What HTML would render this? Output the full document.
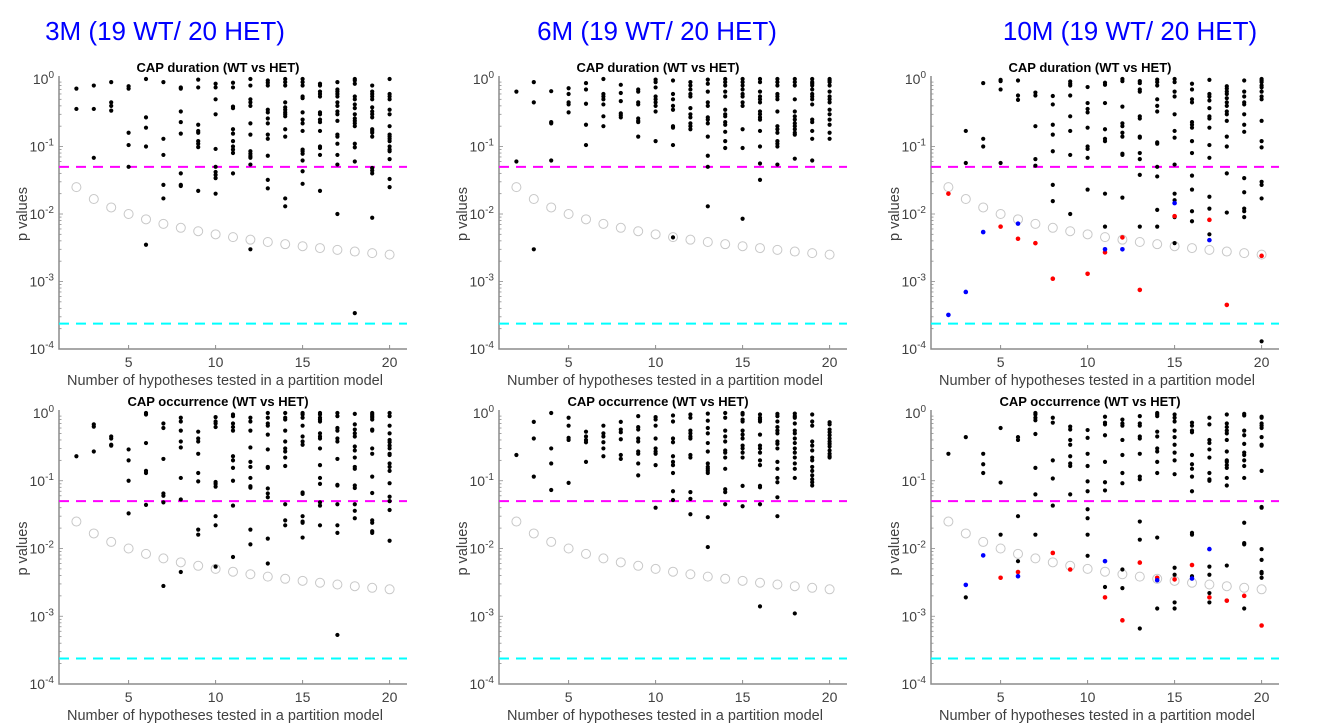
<!DOCTYPE html>
<html><head><meta charset="utf-8"><style>
body{margin:0;background:#fff;}
svg{display:block;font-family:"Liberation Sans",sans-serif;}
</style></head><body>
<svg id="fig" width="1322" height="725" viewBox="0 0 1322 725" xmlns="http://www.w3.org/2000/svg">
<text x="165" y="40" font-size="26" fill="#0000ff" text-anchor="middle">3M (19 WT/ 20 HET)</text>
<text x="657" y="40" font-size="26" fill="#0000ff" text-anchor="middle">6M (19 WT/ 20 HET)</text>
<text x="1130" y="40" font-size="26" fill="#0000ff" text-anchor="middle">10M (19 WT/ 20 HET)</text>
</svg>
<script>
const xTickVals=[5,10,15,20];
const yTickExps=[0,-1,-2,-3,-4];
const nHyp=[2,3,4,5,6,7,8,9,10,11,12,13,14,15,16,17,18,19,20];
const alpha=0.05;
const alphaStrict=0.000238;
const blackA=[[0.72,0.36],[0.8,0.36,0.068],[0.9,0.45,0.4,0.34],[0.78,0.72,0.16,0.105,0.05],[1.0,0.27,0.19,0.1,0.0035],[0.9,0.13,0.075,0.027,0.017],[0.75,0.72,0.33,0.23,0.155,0.04,0.027,0.026],[0.98,0.75,0.21,0.17,0.16,0.12,0.11,0.098,0.022],[0.85,0.75,0.5,0.3,0.092,0.05,0.042,0.038,0.034,0.02],[0.88,0.75,0.39,0.37,0.18,0.155,0.12,0.1,0.09,0.08,0.04],[1.0,0.8,0.5,0.45,0.4,0.22,0.15,0.085,0.078,0.072,0.068,0.054,0.003],[0.95,0.88,0.8,0.35,0.32,0.26,0.22,0.15,0.13,0.073,0.032,0.024],[1.0,0.9,0.8,0.45,0.38,0.35,0.32,0.3,0.28,0.18,0.14,0.017,0.013],[1.0,0.9,0.8,0.55,0.52,0.32,0.25,0.22,0.17,0.09,0.085,0.078,0.062,0.043,0.028],[0.85,0.8,0.65,0.6,0.55,0.32,0.3,0.25,0.23,0.17,0.1,0.095,0.075,0.022],[0.9,0.7,0.65,0.6,0.55,0.45,0.4,0.33,0.3,0.24,0.15,0.14,0.11,0.075,0.054,0.01],[1.0,0.95,0.85,0.55,0.5,0.42,0.37,0.3,0.26,0.24,0.22,0.2,0.11,0.097,0.06,0.00034],[0.8,0.65,0.6,0.55,0.5,0.38,0.33,0.3,0.27,0.18,0.17,0.16,0.14,0.048,0.044,0.04,0.0088],[1.0,0.6,0.55,0.5,0.35,0.3,0.2,0.15,0.14,0.13,0.12,0.1,0.09,0.085,0.065,0.033,0.025]];
const blackB=[[0.65,0.06],[0.9,0.45,0.003],[0.66,0.23,0.22,0.062],[0.73,0.6,0.45,0.42,0.32],[0.87,0.7,0.43,0.21,0.105],[1.0,0.6,0.55,0.5,0.42,0.28,0.2],[0.82,0.62,0.47,0.31,0.29,0.27],[0.7,0.65,0.45,0.42,0.26,0.24,0.23,0.14],[0.98,0.9,0.75,0.55,0.5,0.45,0.4,0.33,0.12],[0.95,0.6,0.5,0.4,0.35,0.2,0.19,0.105,0.0045],[0.9,0.8,0.7,0.6,0.55,0.37,0.3,0.27,0.22,0.2,0.18],[0.98,0.85,0.65,0.45,0.4,0.27,0.25,0.22,0.14,0.073,0.05,0.013],[1.0,0.9,0.8,0.65,0.55,0.35,0.3,0.28,0.23,0.21,0.165,0.12,0.095],[1.0,0.9,0.8,0.7,0.6,0.55,0.45,0.4,0.18,0.095,0.0085],[1.0,0.9,0.65,0.55,0.5,0.45,0.33,0.3,0.27,0.25,0.17,0.1,0.056,0.032],[1.0,0.9,0.8,0.6,0.55,0.5,0.33,0.2,0.18,0.16,0.12,0.11,0.1,0.054],[1.0,0.9,0.8,0.5,0.33,0.28,0.25,0.22,0.2,0.18,0.16,0.15,0.066],[1.0,0.9,0.85,0.8,0.7,0.6,0.55,0.5,0.42,0.25,0.23,0.17,0.13,0.062],[1.0,0.95,0.9,0.8,0.65,0.55,0.5,0.45,0.35,0.3,0.25,0.21,0.16,0.13]];
const blackC=[[],[0.17,0.057],[0.87,0.13,0.1],[0.97,0.93,0.7,0.057],[0.95,0.57,0.49],[0.63,0.57,0.2,0.065,0.052],[0.56,0.42,0.21,0.15,0.085,0.027,0.0155],[0.92,0.85,0.8,0.57,0.28,0.17,0.075,0.01],[0.76,0.44,0.36,0.32,0.19,0.1,0.092,0.068,0.023],[0.88,0.82,0.44,0.18,0.13,0.12,0.02,0.0065],[1.0,0.93,0.39,0.22,0.2,0.16,0.14,0.078,0.075,0.0175],[0.93,0.87,0.7,0.65,0.28,0.26,0.14,0.135,0.08,0.065,0.038,0.0065],[0.98,0.9,0.8,0.5,0.4,0.33,0.115,0.11,0.05,0.036,0.0115,0.0065],[1.0,0.9,0.65,0.55,0.3,0.17,0.135,0.054,0.02,0.016,0.009,0.0037],[0.85,0.7,0.5,0.45,0.23,0.21,0.19,0.12,0.08,0.037,0.023,0.011,0.0078],[0.97,0.6,0.55,0.48,0.37,0.28,0.26,0.19,0.105,0.068,0.018,0.012,0.005],[0.78,0.72,0.65,0.6,0.52,0.45,0.4,0.33,0.3,0.24,0.14,0.1,0.04,0.0105],[0.95,0.65,0.55,0.45,0.42,0.3,0.21,0.165,0.034,0.021,0.012,0.011,0.009],[1.0,0.95,0.9,0.8,0.75,0.65,0.55,0.5,0.24,0.12,0.097,0.03,0.027,0.017,0.00013]];
const redC=[[2,0.02],[5,0.0065],[6,0.0043],[7,0.0037],[8,0.0011],[10,0.0013],[11,0.0027],[12,0.0045],[13,0.00075],[15,0.0093],[17,0.0082],[18,0.00045],[20,0.0024]];
const blueC=[[2,0.00032],[3,0.0007],[4,0.0054],[6,0.0072],[11,0.003],[12,0.003],[15,0.0145],[17,0.0041]];
const blackD=[[0.23],[0.68,0.63,0.27],[0.45,0.42,0.34,0.33],[0.29,0.2,0.1,0.033],[1.0,0.95,0.36,0.14,0.13,0.044],[0.7,0.6,0.21,0.065,0.06,0.048,0.0028],[0.85,0.75,0.55,0.38,0.31,0.11,0.053,0.0045],[0.53,0.42,0.38,0.25,0.13,0.098,0.019,0.016],[0.87,0.75,0.7,0.62,0.096,0.09,0.082,0.03,0.022,0.0054],[0.95,0.9,0.7,0.62,0.55,0.23,0.2,0.155,0.1,0.043,0.0075],[0.85,0.75,0.55,0.31,0.19,0.16,0.11,0.083,0.079,0.019,0.0115],[1.0,0.85,0.7,0.65,0.48,0.29,0.16,0.155,0.077,0.065,0.057,0.014,0.006],[1.0,0.85,0.8,0.55,0.38,0.3,0.27,0.22,0.165,0.045,0.026,0.022],[1.0,0.95,0.85,0.65,0.45,0.38,0.34,0.067,0.064,0.03,0.025,0.024,0.0145],[1.0,0.95,0.85,0.8,0.75,0.5,0.45,0.42,0.3,0.17,0.11,0.09,0.048,0.043,0.022],[1.0,0.9,0.6,0.55,0.42,0.38,0.21,0.087,0.085,0.045,0.022,0.017,0.00053],[0.97,0.68,0.57,0.5,0.45,0.32,0.28,0.22,0.16,0.15,0.085,0.078,0.045,0.036,0.028],[1.0,0.95,0.9,0.85,0.8,0.57,0.55,0.3,0.25,0.115,0.066,0.026,0.024,0.018,0.017],[1.0,0.9,0.65,0.5,0.4,0.37,0.33,0.3,0.25,0.24,0.18,0.16,0.14,0.092,0.058,0.05,0.037,0.013]];
const blackE=[[0.24],[0.74,0.42,0.115],[1.0,0.3,0.18,0.073],[0.85,0.65,0.43,0.4,0.093],[0.53,0.45,0.4,0.37,0.19],[0.65,0.5,0.45,0.37,0.3,0.23],[0.74,0.57,0.52,0.41,0.24,0.21],[0.9,0.62,0.57,0.42,0.38,0.27,0.25,0.18,0.12],[0.87,0.8,0.65,0.42,0.3,0.27,0.25,0.17,0.04],[0.92,0.75,0.42,0.37,0.23,0.19,0.17,0.13,0.07,0.052],[0.95,0.85,0.55,0.5,0.45,0.42,0.24,0.22,0.068,0.054,0.032],[0.98,0.77,0.6,0.5,0.36,0.27,0.18,0.16,0.15,0.14,0.13,0.029,0.0105],[1.0,0.85,0.55,0.45,0.38,0.28,0.26,0.22,0.15,0.075,0.068,0.045],[1.0,0.95,0.8,0.75,0.55,0.48,0.42,0.33,0.3,0.26,0.22,0.084,0.042],[0.95,0.85,0.8,0.75,0.48,0.33,0.3,0.26,0.2,0.17,0.084,0.08,0.045,0.0014],[0.97,0.9,0.75,0.62,0.55,0.5,0.38,0.35,0.3,0.19,0.15,0.11,0.095,0.057,0.03],[0.98,0.9,0.85,0.7,0.55,0.5,0.42,0.36,0.3,0.26,0.22,0.18,0.15,0.11,0.0011],[0.95,0.75,0.65,0.38,0.33,0.28,0.22,0.2,0.16,0.14,0.12,0.105,0.095,0.085],[0.73,0.68,0.57,0.52,0.47,0.42,0.38,0.35,0.32,0.28,0.25,0.23,0.22]];
const blackF=[[0.25],[0.44,0.0019],[0.25,0.175,0.13],[0.6,0.094,0.016],[0.44,0.4,0.03,0.0065],[1.0,0.95,0.85,0.78,0.49,0.155,0.063,0.016],[0.85,0.72,0.2,0.108,0.043],[0.63,0.57,0.4,0.34,0.23,0.18,0.165,0.063],[0.56,0.43,0.25,0.165,0.098,0.07,0.038,0.028,0.016,0.0078],[0.88,0.72,0.68,0.47,0.19,0.095,0.072,0.0027],[0.8,0.7,0.65,0.4,0.24,0.13,0.092,0.0049,0.0026],[0.9,0.7,0.65,0.45,0.42,0.25,0.115,0.105,0.025,0.0135,0.00066],[1.0,0.95,0.9,0.53,0.45,0.3,0.27,0.19,0.13,0.0145,0.0013],[0.95,0.85,0.75,0.55,0.44,0.34,0.26,0.2,0.125,0.0052,0.0041,0.0016,0.0013],[0.72,0.65,0.55,0.52,0.24,0.175,0.15,0.115,0.07,0.017,0.016,0.0039],[0.85,0.68,0.4,0.36,0.29,0.22,0.13,0.105,0.1,0.0054,0.0041,0.0022,0.0016],[0.95,0.7,0.62,0.55,0.5,0.4,0.27,0.2,0.19,0.17,0.155,0.11,0.085,0.0056,0.0017],[0.97,0.92,0.55,0.47,0.35,0.26,0.24,0.2,0.165,0.11,0.024,0.012,0.0115,0.0013],[0.88,0.85,0.7,0.65,0.6,0.44,0.34,0.33,0.14,0.041,0.04,0.0098,0.0068,0.0045,0.0043,0.0037]];
const redF=[[5,0.0037],[6,0.0045],[8,0.0086],[9,0.0049],[11,0.0019],[12,0.00087],[13,0.0062],[14,0.0037],[15,0.0035],[16,0.0057],[17,0.0019],[18,0.0017],[19,0.002],[20,0.00073]];
const blueF=[[3,0.0029],[4,0.0079],[6,0.0039],[11,0.0065],[14,0.0034],[16,0.0036],[17,0.0098]];

const NS='http://www.w3.org/2000/svg';
const svg=document.getElementById('fig');
function mk(tag,attrs,parent){const e=document.createElementNS(NS,tag);for(const k in attrs)e.setAttribute(k,attrs[k]);(parent||svg).appendChild(e);return e;}

const panels=[
 {id:'3m-duration',left:59,y0:79,y4:349,title:'CAP duration (WT vs HET)',black:blackA,red:[],blue:[]},
 {id:'6m-duration',left:499,y0:79,y4:349,title:'CAP duration (WT vs HET)',black:blackB,red:[],blue:[]},
 {id:'10m-duration',left:931,y0:79,y4:349,title:'CAP duration (WT vs HET)',black:blackC,red:redC,blue:blueC},
 {id:'3m-occurrence',left:59,y0:413,y4:684,title:'CAP occurrence (WT vs HET)',black:blackD,red:[],blue:[]},
 {id:'6m-occurrence',left:499,y0:413,y4:684,title:'CAP occurrence (WT vs HET)',black:blackE,red:[],blue:[]},
 {id:'10m-occurrence',left:931,y0:413,y4:684,title:'CAP occurrence (WT vs HET)',black:blackF,red:redF,blue:blueF}
];
const W=348;
panels.forEach(p=>{
 const g=mk('g',{});
 
 
 const dec=(p.y4-p.y0)/4;
 const X=v=>p.left+(v-1)/20*W;
 const Y=v=>p.y0-Math.log10(v)*dec;
 const topY=p.y0-3;
 // axes
 const ax=mk('path',{d:`M${p.left},${topY}V${p.y4}H${p.left+W}`,stroke:'#8c8c8c','stroke-width':1.5,fill:'none'},g);
 
 
 // y ticks major+minor
 for(let e=0;e>-4;e--){
  for(let m=1;m<10;m++){
   const v=m*Math.pow(10,e-1);
   const yy=Y(v);
   mk('line',{x1:p.left,x2:p.left+(m===1?4:2.5),y1:yy,y2:yy,stroke:'#8c8c8c','stroke-width':0.8},g);
  }
 }
 yTickExps.forEach(e=>{
  const t=mk('text',{x:p.left-5,y:Y(Math.pow(10,e))+5,'font-size':14,fill:'#404040','text-anchor':'end'},g);
  
  
  t.appendChild(document.createTextNode('10'));
  const s=mk('tspan',{dy:-6,'font-size':10},t);s.textContent=String(e);
 });
 xTickVals.forEach(v=>{
  mk('line',{x1:X(v),x2:X(v),y1:p.y4,y2:p.y4-4,stroke:'#8c8c8c','stroke-width':1},g);
  const t=mk('text',{x:X(v),y:p.y4+18,'font-size':14,fill:'#404040','text-anchor':'middle'},g);
  
  
  t.textContent=String(v);
 });
 const xl=mk('text',{x:p.left+W/2-8,y:p.y4+36,'font-size':14.5,fill:'#404040','text-anchor':'middle'},g);
 
 
 xl.textContent='Number of hypotheses tested in a partition model';
 const yl=mk('text',{x:0,y:0,'font-size':14.5,fill:'#404040','text-anchor':'middle',transform:`translate(${p.left-32},${(p.y0+p.y4)/2}) rotate(-90)`},g);
 
 
 yl.textContent='p values';
 const tt=mk('text',{x:p.left+W/2-15,y:p.y0-7,'font-size':13,'font-weight':'bold',fill:'#000','text-anchor':'middle'},g);
 
 
 tt.textContent=p.title;
 // threshold lines
 const l1=mk('line',{x1:p.left,x2:p.left+W,y1:Y(alpha),y2:Y(alpha),stroke:'#ff00ff','stroke-width':2,'stroke-dasharray':'10,7'},g);
 
 
 const l2=mk('line',{x1:p.left,x2:p.left+W,y1:Y(alphaStrict),y2:Y(alphaStrict),stroke:'#00ffff','stroke-width':2,'stroke-dasharray':'10,7'},g);
 
 
 // bonferroni circles
 nHyp.forEach(n=>{
  const c=mk('circle',{cx:X(n),cy:Y(alpha/n),r:4.5,fill:'none',stroke:'#c8c8c8','stroke-width':1},g);
  
  
 });
 // black dots
 p.black.forEach((col,i)=>{
  col.forEach(v=>{
   const c=mk('circle',{cx:X(nHyp[i]),cy:Y(v),r:2.1,fill:'#000'},g);
   
   
  });
 });
 p.red.forEach(d=>{
  const c=mk('circle',{cx:X(d[0]),cy:Y(d[1]),r:2.3,fill:'#ff0000'},g);
  
  
 });
 p.blue.forEach(d=>{
  const c=mk('circle',{cx:X(d[0]),cy:Y(d[1]),r:2.3,fill:'#0000ff'},g);
  
  
 });
});
</script>
</body></html>
